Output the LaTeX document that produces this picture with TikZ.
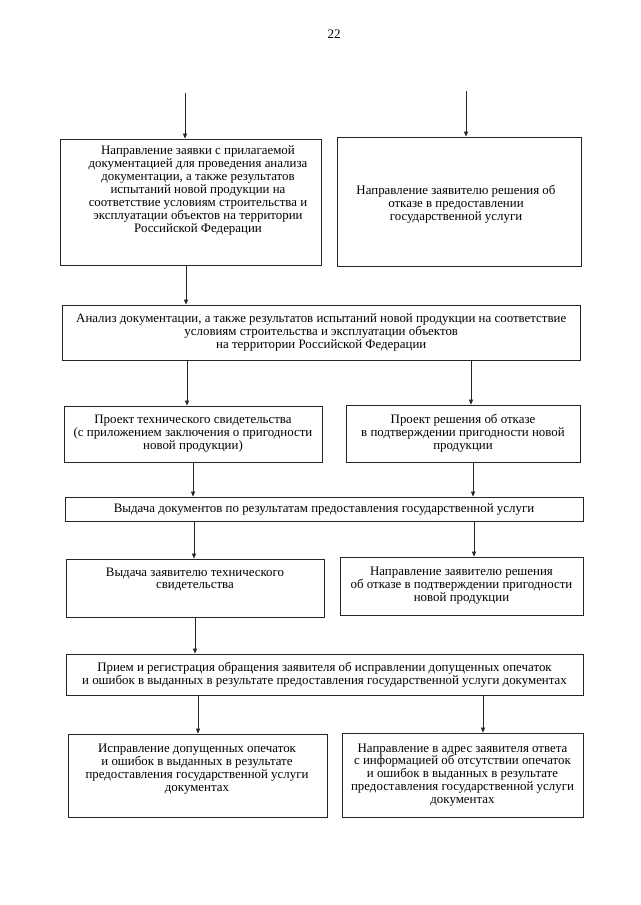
\documentclass[tikz,border=0pt]{standalone}
\usepackage{fontspec}
\setmainfont{Liberation Serif}
\usetikzlibrary{arrows.meta}
\begin{document}
\begin{tikzpicture}[x=1pt,y=-1pt,
  box/.style={draw=black!85,line width=0.8pt,inner sep=0pt},
  txt/.style={align=center,inner sep=0pt,font=\fontsize{12.9}{12.9}\selectfont},
  arr/.style={draw=black!85,line width=0.7pt,-{Triangle[length=5pt,width=4pt]}}]
\useasboundingbox (0,0) rectangle (640,905);
\node[font=\fontsize{13}{13}\selectfont] (pg) at (334,34) {22};
% boxes
\node[box,minimum width=261,minimum height=126] (b1) at (190.5,202) {};
\node[box,minimum width=244,minimum height=129] (b2) at (459,201.5) {};
\node[box,minimum width=517.5,minimum height=55] (b3) at (321.25,332.5) {};
\node[box,minimum width=258,minimum height=56] (b4) at (193,434) {};
\node[box,minimum width=234,minimum height=57] (b5) at (463,433.5) {};
\node[box,minimum width=518,minimum height=24] (b6) at (324,509) {};
\node[box,minimum width=258,minimum height=58] (b7) at (195,588) {};
\node[box,minimum width=243,minimum height=58] (b8) at (461.5,586) {};
\node[box,minimum width=517,minimum height=41] (b9) at (324.5,674.5) {};
\node[box,minimum width=259,minimum height=83] (b10) at (197.5,775.5) {};
\node[box,minimum width=241,minimum height=84] (b11) at (462.5,775) {};
% texts
\node[txt] (t1) at (198,190.5) {Направление заявки с прилагаемой\\документацией для проведения анализа\\документации, а также результатов\\испытаний новой продукции на\\соответствие условиям строительства и\\эксплуатации объектов на территории\\Российской Федерации};
\node[txt] (t2) at (456,204) {Направление заявителю решения об\\отказе в предоставлении\\государственной услуги};
\node[txt] (t3) at (b3) {Анализ документации, а также результатов испытаний новой продукции на соответствие\\условиям строительства и эксплуатации объектов\\на территории Российской Федерации};
\node[txt] (t4) at (b4) {Проект технического свидетельства\\(с приложением заключения о пригодности\\новой продукции)};
\node[txt] (t5) at (b5) {Проект решения об отказе\\в подтверждении пригодности новой\\продукции};
\node[txt] (t6) at (b6) {Выдача документов по результатам предоставления государственной услуги};
\node[txt] (t7) at (195,579.5) {Выдача заявителю технического\\свидетельства};
\node[txt] (t8) at (b8) {Направление заявителю решения\\об отказе в подтверждении пригодности\\новой продукции};
\node[txt] (t9) at (b9) {Прием и регистрация обращения заявителя об исправлении допущенных опечаток\\и ошибок в выданных в результате предоставления государственной услуги документах};
\node[txt] (t10) at (197,769.5) {Исправление допущенных опечаток\\и ошибок в выданных в результате\\предоставления государственной услуги\\документах};
\node[txt] (t11) at (b11) {Направление в адрес заявителя ответа\\с информацией об отсутствии опечаток\\и ошибок в выданных в результате\\предоставления государственной услуги\\документах};
% connectors
\coordinate (s1) at (185,93);
\coordinate (s2) at (466,91);
\draw[arr] (s1) -- (s1 |- b1.north);
\draw[arr] (s2) -- (s2 |- b2.north);
\draw[arr] (186,0 |- b1.south) -- (186,0 |- b3.north);
\draw[arr] (187,0 |- b3.south) -- (187,0 |- b4.north);
\draw[arr] (471,0 |- b3.south) -- (471,0 |- b5.north);
\draw[arr] (193,0 |- b4.south) -- (193,0 |- b6.north);
\draw[arr] (473,0 |- b5.south) -- (473,0 |- b6.north);
\draw[arr] (194,0 |- b6.south) -- (194,0 |- b7.north);
\draw[arr] (474,0 |- b6.south) -- (474,0 |- b8.north);
\draw[arr] (195,0 |- b7.south) -- (195,0 |- b9.north);
\draw[arr] (198,0 |- b9.south) -- (198,0 |- b10.north);
\draw[arr] (483,0 |- b9.south) -- (483,0 |- b11.north);
\end{tikzpicture}
\end{document}
